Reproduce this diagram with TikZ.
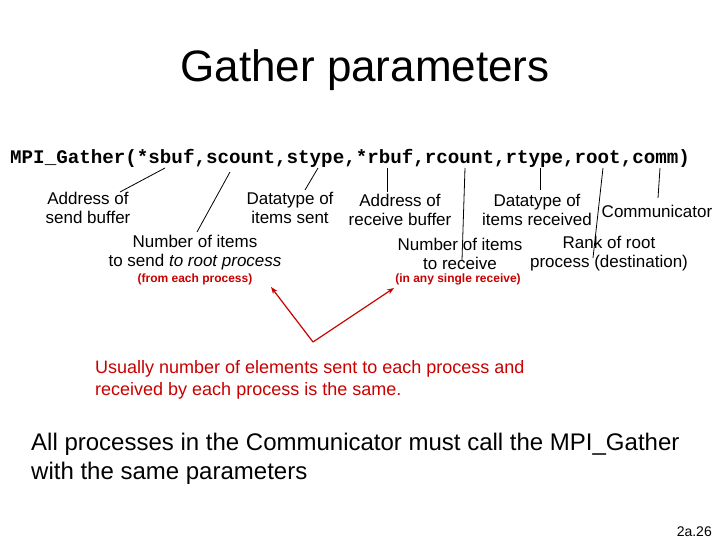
\documentclass[tikz,border=0pt]{standalone}
\usepackage{fontspec}
\setmainfont{Liberation Sans}
\newfontfamily\cour{Liberation Mono}
\usetikzlibrary{arrows.meta}
\definecolor{dred}{RGB}{200,0,0}
\begin{document}
\begin{tikzpicture}[x=1pt,y=-1pt,
  lbl/.style={font=\fontsize{17}{19}\selectfont,align=center,inner sep=0pt},
  sm/.style={font=\bfseries\fontsize{12}{13}\selectfont,text=dred,inner sep=0pt},
  ln/.style={black,line width=0.8pt},
  ar/.style={dred,line width=1.2pt,-{Stealth[length=7pt]}}]
\useasboundingbox (0,0) rectangle (720,540);
\node (title) at (365,70) {\fontsize{44}{48}\selectfont Gather parameters};
\node[anchor=west,inner sep=0pt] (code) at (10,158) {\cour\bfseries\fontsize{19.2}{22}\selectfont MPI\_Gather(*sbuf,scount,stype,*rbuf,rcount,rtype,root,comm)};
\node[lbl] (a) at (88,208) {Address of\\send buffer};
\node[lbl] (b) at (290,208) {Datatype of\\items sent};
\node[lbl] (c) at (400,210) {Address of\\receive buffer};
\node[lbl] (d) at (537,210) {Datatype of\\items received};
\node[lbl] (e) at (657,211) {Communicator};
\node[lbl] (f) at (195,253) {Number of items\\to send \textit{to root process}};
\node[lbl] (g) at (460,254) {Number of items\\to receive};
\node[lbl] (h) at (609,254) {Rank of root\\process (destination)};
\node[sm] (f2) at (195,279) {(from each process)};
\node[sm] (g2) at (458,279) {(in any single receive)};
\coordinate (p1) at (165,168); \coordinate (q1) at (120,192);
\coordinate (p2) at (230,172); \coordinate (q2) at (197,232);
\coordinate (p3) at (318,168); \coordinate (q3) at (305,190);
\coordinate (p4) at (387,168); \coordinate (q4) at (387,192);
\coordinate (p5) at (465,168); \coordinate (q5) at (462,260);
\coordinate (p6) at (540,168); \coordinate (q6) at (540,190);
\coordinate (p7) at (603,168); \coordinate (q7) at (593,258);
\coordinate (p8) at (660,168); \coordinate (q8) at (658,198);
\foreach \i in {1,...,8} \draw[ln] (p\i) -- (q\i);
\coordinate (m) at (313,342);
\coordinate (t1) at (271,287);
\coordinate (t2) at (394,288);
\draw[ar] (m) -- (t1);
\draw[ar] (m) -- (t2);
\node[anchor=north west,align=left,text=dred,inner sep=0pt,font=\fontsize{18}{22}\selectfont] (u) at (95,360) {Usually number of elements sent to each process and\\received by each process is the same.};
\node[anchor=north west,align=left,inner sep=0pt,font=\fontsize{24}{29}\selectfont] (v) at (31,433) {All processes in the Communicator must call the MPI\_Gather\\with the same parameters};
\node[anchor=south east,inner sep=0pt,font=\fontsize{14}{15}\selectfont] (pg) at (712,537) {2a.26};
\end{tikzpicture}
\end{document}
